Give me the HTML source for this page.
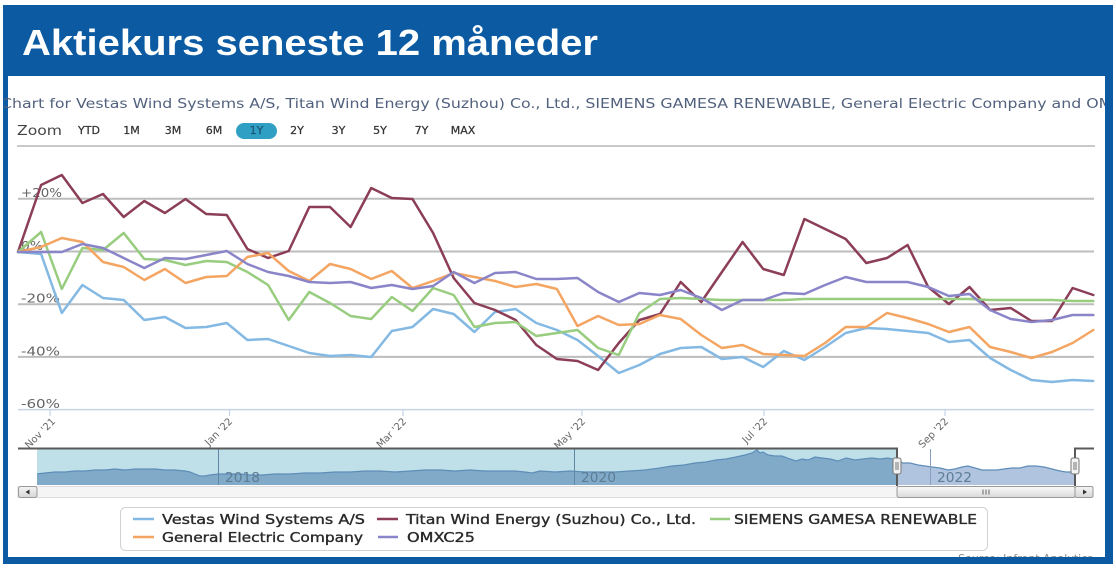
<!DOCTYPE html>
<html>
<head>
<meta charset="utf-8">
<style>
html,body{margin:0;padding:0;background:#fff;}
body{width:1116px;height:568px;overflow:hidden;}
svg{display:block;}
.c{font-family:"DejaVu Sans","Liberation Sans",sans-serif;}
</style>
</head>
<body>
<svg width="1116" height="568" viewBox="0 0 1116 568" xmlns="http://www.w3.org/2000/svg">
  <defs>
    <clipPath id="panel"><rect x="4" y="76" width="1101" height="481"/></clipPath>
    <linearGradient id="thumb" x1="0" y1="0" x2="0" y2="1">
      <stop offset="0" stop-color="#fafafa"/>
      <stop offset="1" stop-color="#d9d9d9"/>
    </linearGradient>
    <linearGradient id="btn" x1="0" y1="0" x2="0" y2="1">
      <stop offset="0" stop-color="#f4f4f4"/>
      <stop offset="1" stop-color="#d6d6d6"/>
    </linearGradient>
  </defs>

  <!-- frame -->
  <rect x="3" y="5" width="1110" height="559" fill="#0b5aa2"/>
  <rect x="8" y="76" width="1097" height="481" fill="#ffffff"/>

  <!-- main title -->
  <text x="22" y="55" font-family="'Liberation Sans',sans-serif" font-weight="bold" font-size="36" fill="#ffffff" textLength="576" lengthAdjust="spacingAndGlyphs">Aktiekurs seneste 12 måneder</text>

  <g clip-path="url(#panel)">
    <!-- chart title -->
    <text class="c" x="1" y="108" font-size="13" fill="#52627e" textLength="1152" lengthAdjust="spacingAndGlyphs">Chart for Vestas Wind Systems A/S, Titan Wind Energy (Suzhou) Co., Ltd., SIEMENS GAMESA RENEWABLE, General Electric Company and OMXC25</text>

    <!-- zoom buttons -->
    <text class="c" x="17" y="135" font-size="13" fill="#444" textLength="45" lengthAdjust="spacingAndGlyphs">Zoom</text>
    <rect x="236" y="123" width="41" height="16" rx="8" fill="#2f9fc4"/>
    <g class="c" font-size="11" fill="#333" stroke="#333" stroke-width="0.25" text-anchor="middle">
      <text x="89" y="134">YTD</text>
      <text x="131.5" y="134">1M</text>
      <text x="173" y="134">3M</text>
      <text x="214" y="134">6M</text>
      <text x="256.5" y="134" fill="#1d5577" stroke="#1d5577">1Y</text>
      <text x="297" y="134">2Y</text>
      <text x="338.5" y="134">3Y</text>
      <text x="380" y="134">5Y</text>
      <text x="421.5" y="134">7Y</text>
      <text x="463" y="134">MAX</text>
    </g>
    <line x1="17" y1="146" x2="1095" y2="146" stroke="#c9c9c9" stroke-width="2"/>

    <!-- gridlines -->
    <g stroke="#bdbdbd" stroke-width="2">
      <line x1="18" y1="198.8" x2="1094" y2="198.8"/>
      <line x1="18" y1="251.5" x2="1094" y2="251.5"/>
      <line x1="18" y1="304.2" x2="1094" y2="304.2"/>
      <line x1="18" y1="356.9" x2="1094" y2="356.9"/>
    </g>
    <line x1="18" y1="409.6" x2="1094" y2="409.6" stroke="#c6d4e6" stroke-width="1.5"/>
    <g stroke="#c6d4e6" stroke-width="1.2">
      <line x1="50" y1="410" x2="50" y2="416"/>
      <line x1="229.5" y1="410" x2="229.5" y2="416"/>
      <line x1="403" y1="410" x2="403" y2="416"/>
      <line x1="582" y1="410" x2="582" y2="416"/>
      <line x1="764" y1="410" x2="764" y2="416"/>
      <line x1="945" y1="410" x2="945" y2="416"/>
    </g>

    <!-- y labels -->
    <g class="c" font-size="12.5" fill="#666">
      <text x="21" y="197" textLength="41" lengthAdjust="spacingAndGlyphs">+20%</text>
      <text x="21" y="250" textLength="22" lengthAdjust="spacingAndGlyphs">0%</text>
      <text x="21" y="302.5" textLength="39" lengthAdjust="spacingAndGlyphs">-20%</text>
      <text x="21" y="355.5" textLength="39" lengthAdjust="spacingAndGlyphs">-40%</text>
      <text x="21" y="408" textLength="39" lengthAdjust="spacingAndGlyphs">-60%</text>
    </g>

    <!-- x labels -->
    <g class="c" font-size="10" fill="#666" text-anchor="end">
      <text transform="translate(56,422) rotate(-45)">Nov '21</text>
      <text transform="translate(233,422) rotate(-45)">Jan '22</text>
      <text transform="translate(407,422) rotate(-45)">Mar '22</text>
      <text transform="translate(586,422) rotate(-45)">May '22</text>
      <text transform="translate(768,422) rotate(-45)">Jul '22</text>
      <text transform="translate(949,422) rotate(-45)">Sep '22</text>
    </g>

    <!-- series -->
    <g fill="none" stroke-width="2.5" stroke-linejoin="round" stroke-linecap="round">
      <polyline stroke="#84b9e3" points="18,252 41.1,254 61.8,313 82.4,285 103,298 123.7,300 144.3,320 164.9,317 185.5,328 206.2,327 226.8,323 247.4,340 268.1,339 288.7,346 309.3,353 330,356 350.6,355 371.2,357 391.8,331 412.5,327 433.1,309 453.7,314 474.4,332 495,312 515.6,309 536.3,323 556.9,330 577.5,340 598.1,356 618.8,373 639.4,365 660,354 680.7,348 701.3,347 721.9,359 742.6,357 763.2,367 783.8,351 804.4,360 825.1,347 845.7,333 866.3,328 887,329 907.6,331 928.2,333 948.9,342 969.5,340 990.1,358 1010.7,370 1031.4,380 1052,382 1072.6,380 1093.3,381"/>
      <polyline stroke="#8b3e55" points="18,252 41.1,185 61.8,175 82.4,203 103,194 123.7,217 144.3,201 164.9,213 185.5,199 206.2,214 226.8,215 247.4,249 268.1,258 288.7,251 309.3,207 330,207 350.6,227 371.2,188 391.8,198 412.5,199 433.1,233 453.7,278 474.4,303 495,310 515.6,320 536.3,345 556.9,359 577.5,361 598.1,370 618.8,343 639.4,320 660,314 680.7,282 701.3,302 721.9,272 742.6,242 763.2,269 783.8,275 804.4,219 825.1,229 845.7,239 866.3,263 887,258 907.6,245 928.2,287 948.9,304 969.5,287 990.1,310 1010.7,308 1031.4,321 1052,321 1072.6,288 1093.3,295"/>
      <polyline stroke="#98cd7f" points="18,252 41.1,232 61.8,289 82.4,248 103,250 123.7,233 144.3,259 164.9,260 185.5,265 206.2,261 226.8,262 247.4,272 268.1,285 288.7,320 309.3,292 330,303 350.6,316 371.2,319 391.8,297 412.5,311 433.1,288 453.7,295 474.4,327 495,323 515.6,322 536.3,336 556.9,333 577.5,330 598.1,348 618.8,355 639.4,313 660,299 680.7,298 701.3,299 721.9,300 742.6,300 763.2,300 783.8,300 804.4,299 825.1,299 845.7,299 866.3,299 887,299 907.6,299 928.2,299 948.9,299 969.5,299 990.1,300 1010.7,300 1031.4,300 1052,300 1072.6,301 1093.3,301"/>
      <polyline stroke="#f4a562" points="18,252 41.1,247 61.8,238 82.4,242 103,262 123.7,267 144.3,280 164.9,269 185.5,283 206.2,277 226.8,276 247.4,257 268.1,253 288.7,271 309.3,281 330,264 350.6,269 371.2,279 391.8,271 412.5,288 433.1,281 453.7,273 474.4,277 495,281 515.6,287 536.3,284 556.9,289 577.5,326 598.1,316 618.8,325 639.4,324 660,315 680.7,319 701.3,335 721.9,348 742.6,345 763.2,354 783.8,355 804.4,356 825.1,343 845.7,327 866.3,327 887,313 907.6,318 928.2,324 948.9,332 969.5,327 990.1,347 1010.7,352 1031.4,358 1052,352 1072.6,343 1093.3,330"/>
      <polyline stroke="#8a85c9" points="18,252 41.1,252 61.8,252 82.4,244 103,248 123.7,258 144.3,268 164.9,258 185.5,259 206.2,255 226.8,251 247.4,264 268.1,272 288.7,276 309.3,282 330,283 350.6,282 371.2,288 391.8,285 412.5,289 433.1,286 453.7,272 474.4,283 495,273 515.6,272 536.3,279 556.9,279 577.5,278 598.1,292 618.8,302 639.4,293 660,295 680.7,290 701.3,298 721.9,310 742.6,300 763.2,300 783.8,293 804.4,294 825.1,285 845.7,277 866.3,282 887,282 907.6,282 928.2,287 948.9,296 969.5,294 990.1,310 1010.7,319 1031.4,322 1052,320 1072.6,315 1093.3,315"/>
    </g>

    <!-- navigator -->
    <rect x="37" y="449" width="860" height="36" fill="#bfe0e8"/>
    <path fill="#80aac8" d="M37,485 L37,474 45,473 55,472 65,472 75,471 85,471 95,470 105,470 115,469 125,470 135,469 145,469 155,469 165,470 175,470 185,471 190,472 195,474 200,476 205,476 210,475 218,474 228,474 240,474 250,475 262,475 275,474 290,474 305,473 320,473 335,472 350,472 365,471 380,471 395,472 410,471 425,470 440,470 455,471 470,470 485,471 500,471 515,471 525,472 532,473 540,471 555,472 570,471 585,472 600,472 615,472 630,471 645,470 660,468 672,466 684,465 695,463 706,462 716,460 726,459 736,457 745,455 752,453 757,450 760,453 763,452 768,455 775,456 782,456 790,459 796,461 802,459 808,460 815,457 822,458 830,459 838,461 846,458 855,460 863,459 872,458 880,459 888,458 897,460 L897,485 Z"/>
    <path fill="#b0c4df" d="M897,485 L897,460 903,463 910,463 918,465 925,466 932,467 940,468 948,470 955,469 962,467 968,466 975,468 982,470 990,470 997,470 1004,469 1012,468 1020,468 1028,466 1036,466 1044,467 1052,469 1060,471 1066,472 1072,472 1075,470 L1075,485 Z"/>
    <polyline fill="none" stroke="#5e8db8" stroke-width="1.2" points="37,474 45,473 55,472 65,472 75,471 85,471 95,470 105,470 115,469 125,470 135,469 145,469 155,469 165,470 175,470 185,471 190,472 195,474 200,476 205,476 210,475 218,474 228,474 240,474 250,475 262,475 275,474 290,474 305,473 320,473 335,472 350,472 365,471 380,471 395,472 410,471 425,470 440,470 455,471 470,470 485,471 500,471 515,471 525,472 532,473 540,471 555,472 570,471 585,472 600,472 615,472 630,471 645,470 660,468 672,466 684,465 695,463 706,462 716,460 726,459 736,457 745,455 752,453 757,450 760,453 763,452 768,455 775,456 782,456 790,459 796,461 802,459 808,460 815,457 822,458 830,459 838,461 846,458 855,460 863,459 872,458 880,459 888,458 897,460 903,463 910,463 918,465 925,466 932,467 940,468 948,470 955,469 962,467 968,466 975,468 982,470 990,470 997,470 1004,469 1012,468 1020,468 1028,466 1036,466 1044,467 1052,469 1060,471 1066,472 1072,472 1075,470"/>
    <g stroke-width="1">
      <line x1="218.5" y1="449" x2="218.5" y2="485" stroke="#5f86a2"/>
      <line x1="574.5" y1="449" x2="574.5" y2="485" stroke="#5f86a2"/>
      <line x1="930.5" y1="449" x2="930.5" y2="485" stroke="#8a9fbb"/>
    </g>
    <g class="c" font-size="13" fill="#5d7d95">
      <text x="225" y="482" textLength="35" lengthAdjust="spacingAndGlyphs">2018</text>
      <text x="581" y="482" textLength="35" lengthAdjust="spacingAndGlyphs">2020</text>
      <text x="937" y="482" textLength="35" lengthAdjust="spacingAndGlyphs">2022</text>
    </g>
    <path d="M18,448.5 H897 V486 M1075,486 V448.5 H1094" fill="none" stroke="#5a5a5a" stroke-width="2"/>

    <!-- scrollbar -->
    <rect x="18" y="486.5" width="1075" height="11" fill="#f5f5f5" stroke="#dddddd" stroke-width="1"/>
    <rect x="18.5" y="486.5" width="18.5" height="11" rx="2" fill="url(#btn)" stroke="#999"/>
    <polygon points="25.5,492 29.5,489.5 29.5,494.5" fill="#333"/>
    <rect x="897" y="486.5" width="178" height="11" rx="2" fill="url(#thumb)" stroke="#999"/>
    <g stroke="#666" stroke-width="1">
      <line x1="983" y1="489.5" x2="983" y2="494.5"/>
      <line x1="986" y1="489.5" x2="986" y2="494.5"/>
      <line x1="989" y1="489.5" x2="989" y2="494.5"/>
    </g>
    <rect x="1075" y="486.5" width="18" height="11" rx="2" fill="url(#btn)" stroke="#999"/>
    <polygon points="1087,492 1083,489.5 1083,494.5" fill="#333"/>

    <!-- handles -->
    <g fill="#f2f2f2" stroke="#777" stroke-width="1">
      <rect x="893" y="458" width="8" height="16" rx="2"/>
      <rect x="1071" y="458" width="8" height="16" rx="2"/>
    </g>
    <g stroke="#777" stroke-width="1">
      <line x1="896" y1="462" x2="896" y2="470"/>
      <line x1="898" y1="462" x2="898" y2="470"/>
      <line x1="1074" y1="462" x2="1074" y2="470"/>
      <line x1="1076" y1="462" x2="1076" y2="470"/>
    </g>

    <!-- legend -->
    <rect x="120.5" y="507.5" width="867" height="43" rx="5" fill="#fff" stroke="#d2d2d2"/>
    <g stroke-width="2.5">
      <line x1="133" y1="519" x2="154" y2="519" stroke="#84b9e3"/>
      <line x1="377" y1="519" x2="398" y2="519" stroke="#8b3e55"/>
      <line x1="710" y1="519" x2="730" y2="519" stroke="#98cd7f"/>
      <line x1="133" y1="537" x2="154" y2="537" stroke="#f4a562"/>
      <line x1="378" y1="537" x2="398" y2="537" stroke="#8a85c9"/>
    </g>
    <g class="c" font-size="13" fill="#2a2a2a" stroke="#2a2a2a" stroke-width="0.35">
      <text x="162" y="524" textLength="203" lengthAdjust="spacingAndGlyphs">Vestas Wind Systems A/S</text>
      <text x="406" y="524" textLength="290" lengthAdjust="spacingAndGlyphs">Titan Wind Energy (Suzhou) Co., Ltd.</text>
      <text x="734" y="524" textLength="243" lengthAdjust="spacingAndGlyphs">SIEMENS GAMESA RENEWABLE</text>
      <text x="162" y="542" textLength="201" lengthAdjust="spacingAndGlyphs">General Electric Company</text>
      <text x="407" y="542" textLength="68" lengthAdjust="spacingAndGlyphs">OMXC25</text>
    </g>

    <!-- source -->
    <text class="c" x="1093" y="562" font-size="11" fill="#8a8a8a" text-anchor="end">Source: Infront Analytics</text>
  </g>
</svg>
</body>
</html>
